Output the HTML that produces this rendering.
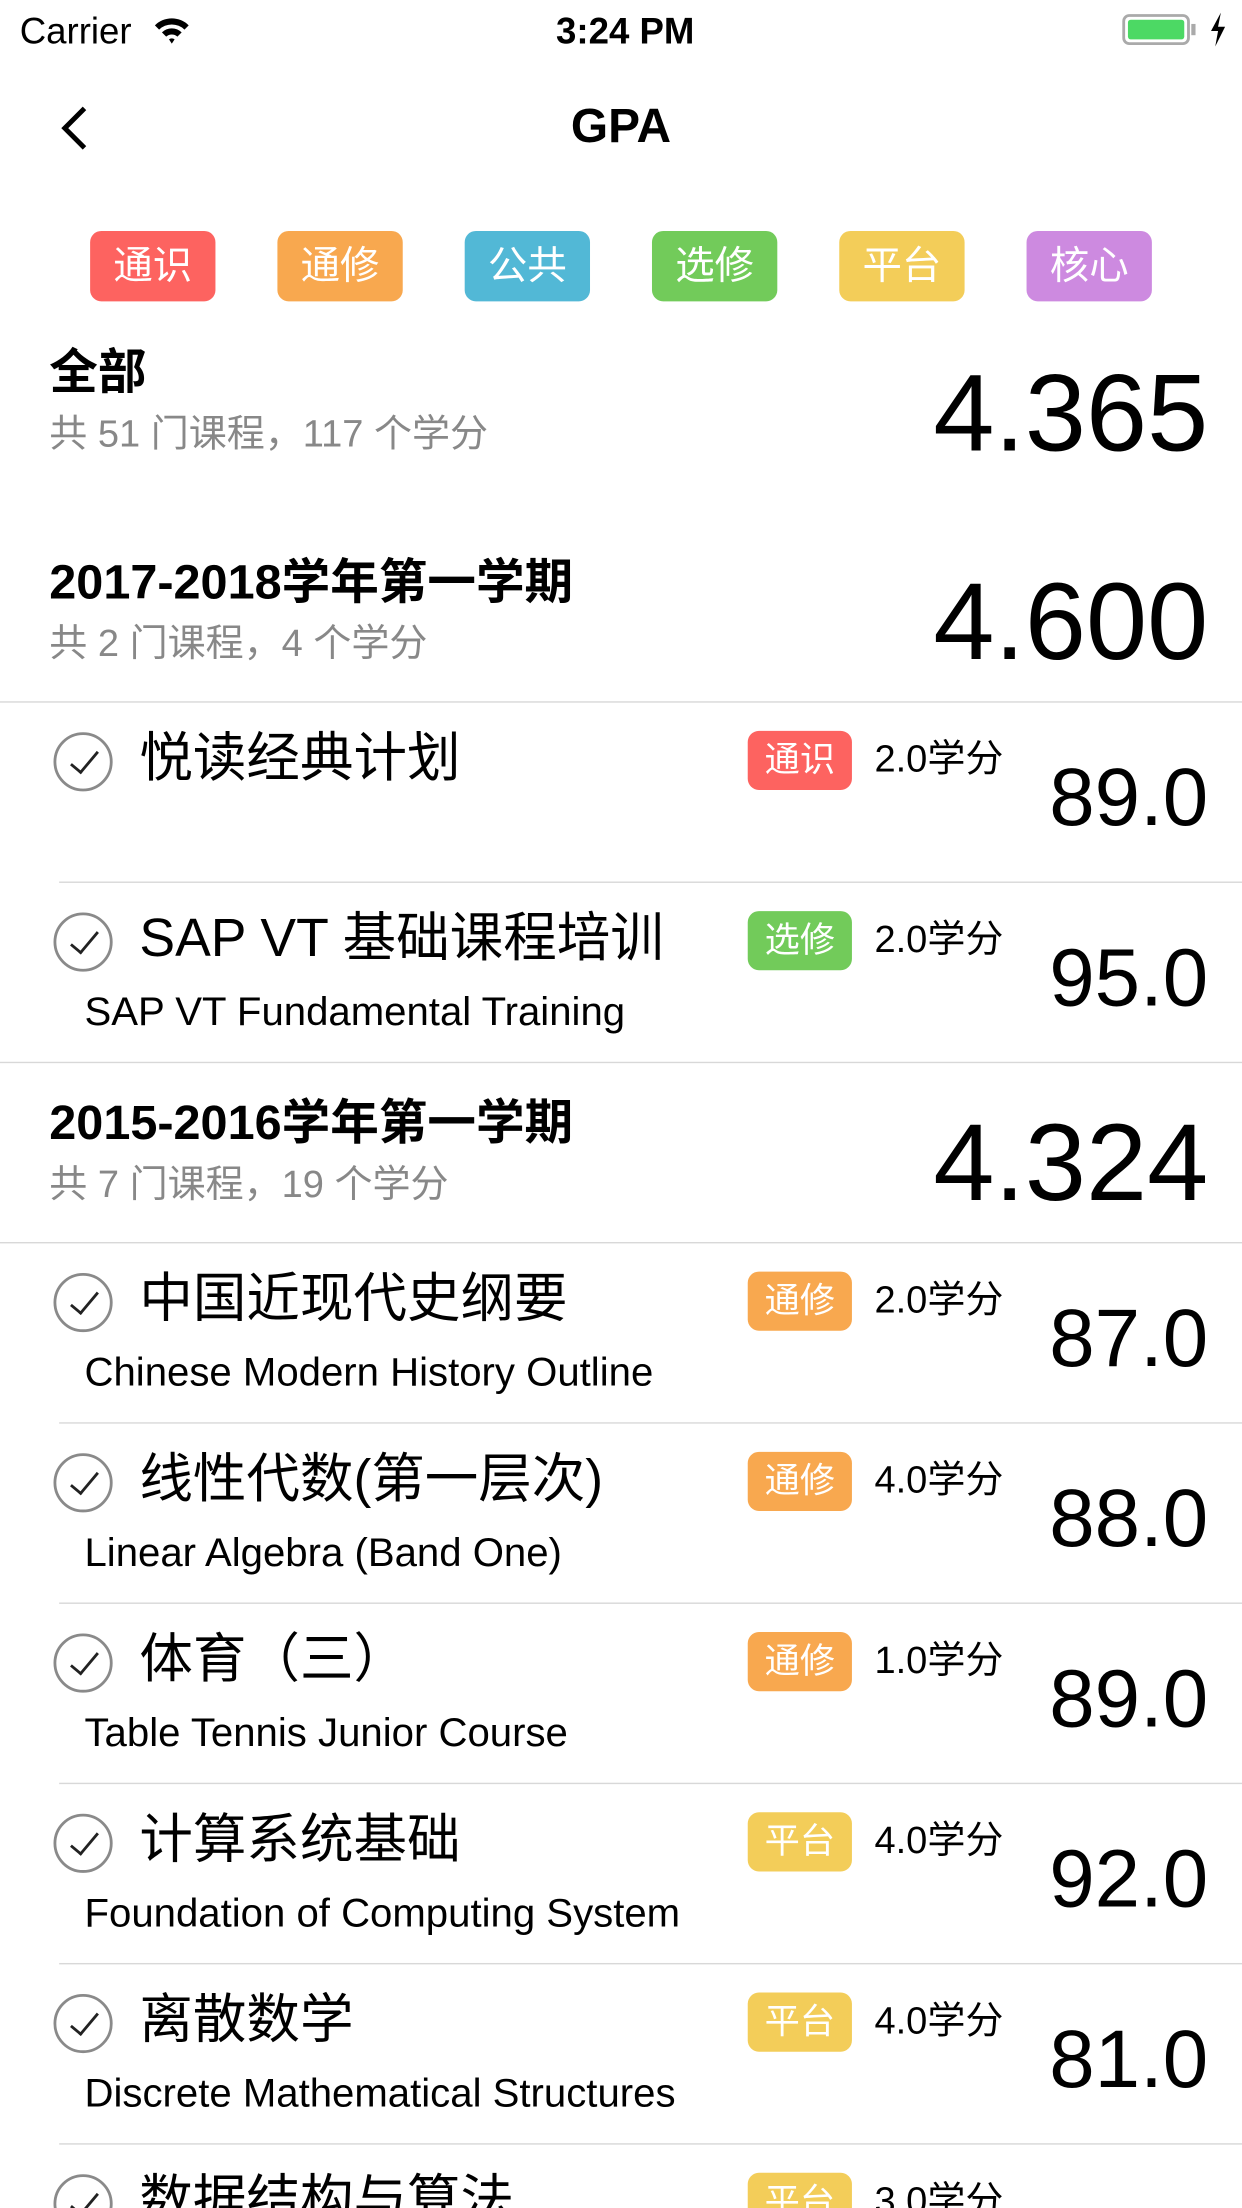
<!DOCTYPE html>
<html><head><meta charset="utf-8">
<style>
html,body{margin:0;padding:0;background:#fff;overflow:hidden;width:1242px;height:2208px;}
#clip{position:relative;width:1242px;height:2208px;overflow:hidden;}
#wrap{position:absolute;left:0;top:0;width:882px;height:1568px;overflow:hidden;transform:scale(1.40816);transform-origin:0 0;font-family:"Liberation Sans","Noto Sans CJK SC",sans-serif;color:#000;}
.abs{position:absolute;white-space:nowrap;}
.tag{position:absolute;color:#fff;text-align:center;border-radius:8px;}
.sep{position:absolute;right:0;height:1px;background:#d8d8d8;}
.check{position:absolute;width:42px;height:42px;border:2px solid #8a8a8a;border-radius:50%;box-sizing:border-box;}
.check:after{content:"";position:absolute;left:15px;top:7px;width:8px;height:18px;border-right:2px solid #222;border-bottom:2px solid #222;transform:rotate(40deg);}
.cname{font-size:38px;line-height:40px;}
.eng{font-size:28.5px;line-height:30px;}
.credit{font-size:27px;line-height:30px;}
.score{font-size:58px;line-height:60px;right:24px;}
.semT{font-size:34.5px;font-weight:bold;line-height:36px;}
.semS{font-size:27px;color:#888;line-height:30px;}
.big{font-size:78px;line-height:80px;right:24px;}
</style></head>
<body>
<div id="clip">
<div id="wrap">
  <div class="abs" style="left:14px;top:7px;font-size:26px;">Carrier</div>
  <svg class="abs" style="left:108px;top:10px" width="28" height="22"><path d="M2 8 A17 17 0 0 1 26 8 L23 11 A13 13 0 0 0 5 11Z M7 13 A10 10 0 0 1 21 13 L18 16 A6 6 0 0 0 10 16Z M12 18 L14 21 L16 18 A3 3 0 0 0 12 18Z" fill="#000"/></svg>
  <div class="abs" style="left:0;width:888px;text-align:center;top:7px;font-size:26px;font-weight:bold;">3:24 PM</div>
  <div class="abs" style="left:797px;top:10px;width:48px;height:22px;border:2px solid #aaa;border-radius:5px;box-sizing:border-box;"><div style="position:absolute;left:2px;top:2px;right:2px;bottom:2px;background:#4cd964;border-radius:2px"></div></div>
  <div class="abs" style="left:846px;top:17px;width:3px;height:8px;background:#aaa"></div>
  <svg class="abs" style="left:858px;top:9px" width="14" height="24"><path d="M9 0 L2 13 L7 13 L5 24 L12 10 L7 10Z" fill="#000"/></svg>

  <svg class="abs" style="left:38px;top:74px" width="28" height="34"><path d="M22 3 L8 17 L22 31" stroke="#000" stroke-width="3.5" fill="none"/></svg>
  <div class="abs" style="left:0;width:882px;text-align:center;top:70px;font-size:34px;font-weight:bold;line-height:40px;">GPA</div>

  <div id="tags"></div>

  <div class="abs semT" style="left:35px;top:247px;">全部</div>
  <div class="abs semS" style="left:35px;top:293px;">共 51 门课程，117 个学分</div>
  <div class="abs big" style="top:253px;">4.365</div>

  <div id="list"></div>
</div>
</div>
<script>
const tagNames=["通识","通修","公共","选修","平台","核心"];
const tagColors=["#fd6360","#f8a84f","#52b8d6","#72cb5a","#f3cd59","#cd8ae0"];
const semTitles=["2017-2018学年第一学期","2015-2016学年第一学期"];
const semSummaries=["共 2 门课程，4 个学分","共 7 门课程，19 个学分"];
const semGpas=["4.600","4.324"];
const semCourseCounts=[2,6];
const courseNames=["悦读经典计划","SAP VT 基础课程培训","中国近现代史纲要","线性代数(第一层次)","体育（三）","计算系统基础","离散数学","数据结构与算法"];
const courseEng=["","SAP VT Fundamental Training","Chinese Modern History Outline","Linear Algebra (Band One)","Table Tennis Junior Course","Foundation of Computing System","Discrete Mathematical Structures",""];
const courseTags=[0,3,1,1,1,4,4,4];
const courseCredits=["2.0学分","2.0学分","2.0学分","4.0学分","1.0学分","4.0学分","4.0学分","3.0学分"];
const courseScores=["89.0","95.0","87.0","88.0","89.0","92.0","81.0",""];

const FRAME_H=1568;
const tagWrap=document.getElementById('tags');
tagNames.forEach((t,i)=>{
  const d=document.createElement('div');
  d.className='tag';
  d.style.cssText=`left:${64+i*133}px;top:164px;width:89px;height:50px;line-height:50px;font-size:28px;background:${tagColors[i]}`;
  d.textContent=t;
  
  
  tagWrap.appendChild(d);
});

const list=document.getElementById('list');
function add(html,name,inter,top){
  if(top>=FRAME_H) return null;
  const d=document.createElement('div');
  d.innerHTML=html;
  const el=d.firstElementChild;
  
  
  list.appendChild(el);
  return el;
}
let y=370, ci=0;
semTitles.forEach((st,s)=>{
  add(`<div class="abs semT" style="left:35px;top:${y+26}px">${st}</div>`,'semester-title','false',y+26);
  add(`<div class="abs semS" style="left:35px;top:${y+72}px">${semSummaries[s]}</div>`,'semester-summary','false',y+72);
  add(`<div class="abs big" style="top:${y+31}px">${semGpas[s]}</div>`,'semester-gpa','false',y+31);
  y+=128;
  add(`<div class="sep" style="left:0;top:${y}px"></div>`,'semester-divider','false',y);
  const n=s==semTitles.length-1?courseNames.length-ci:semCourseCounts[s];
  for(let k=0;k<n;k++,ci++){
    add(`<div class="check" style="left:38px;top:${y+22}px"></div>`,'course-check','true',y+22);
    add(`<div class="abs cname" style="left:99px;top:${y+21}px">${courseNames[ci]}</div>`,'course-name','false',y+21);
    if(courseEng[ci]) add(`<div class="abs eng" style="left:60px;top:${y+78}px">${courseEng[ci]}</div>`,'course-english-name','false',y+78);
    const ti=courseTags[ci];
    add(`<div class="tag" style="left:531px;top:${y+21}px;width:74px;height:42px;line-height:42px;font-size:25px;background:${tagColors[ti]}">${tagNames[ti]}</div>`,'course-tag','false',y+21);
    add(`<div class="abs credit" style="left:621px;top:${y+26}px">${courseCredits[ci]}</div>`,'course-credit','false',y+26);
    if(courseScores[ci]) add(`<div class="abs score" style="top:${y+39}px">${courseScores[ci]}</div>`,'course-score','false',y+39);
    y+=128;
    const last=(k==n-1);
    add(`<div class="sep" style="left:${last?0:42}px;top:${y}px"></div>`,'row-divider','false',y);
  }
});
</script>
</body></html>
